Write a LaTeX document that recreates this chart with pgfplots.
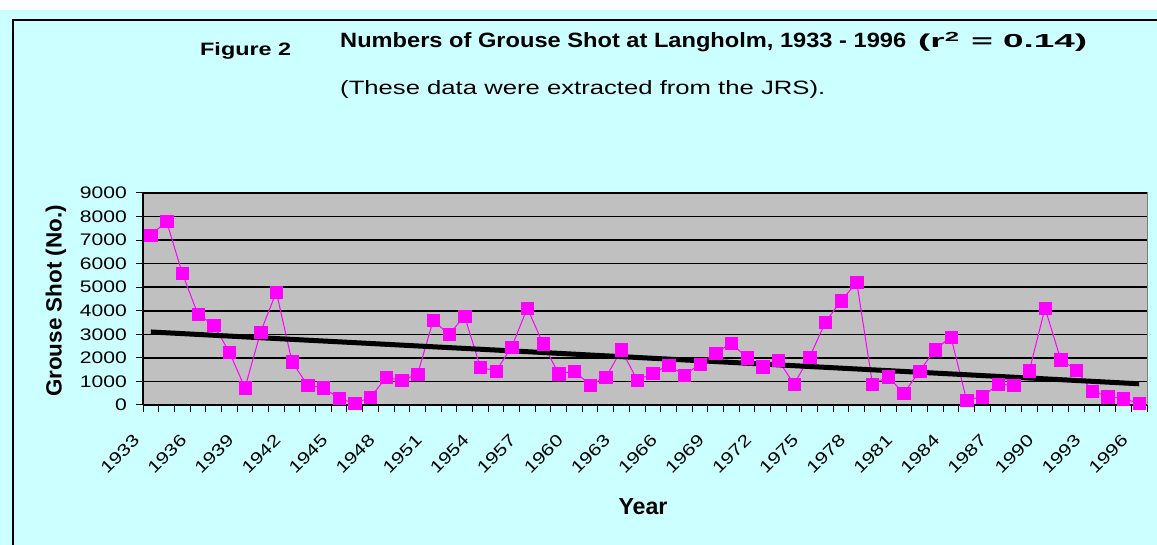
\documentclass[border=0pt]{standalone}
\usepackage{pgfplots}
\pgfplotsset{compat=1.18}
\usepackage{pgfplotstable}
\usepackage{fontspec}
\setmainfont{Liberation Sans}
\usepackage{graphicx}
\definecolor{bgcyan}{RGB}{204,255,255}
\definecolor{plotgray}{RGB}{192,192,192}
\definecolor{mag}{RGB}{255,0,255}
\newcommand\tl[1]{\scalebox{1.26}[1]{\fontsize{16.8}{18}\selectfont #1}}

\pgfplotstableread{
year val
1933 7200
1934 7800
1935 5600
1936 3850
1937 3400
1938 2250
1939 730
1940 3100
1941 4800
1942 1830
1943 830
1944 730
1945 280
1946 70
1947 320
1948 1170
1949 1050
1950 1300
1951 3590
1952 3000
1953 3770
1954 1610
1955 1440
1956 2460
1957 4110
1958 2600
1959 1320
1960 1440
1961 850
1962 1170
1963 2340
1964 1060
1965 1340
1966 1690
1967 1270
1968 1730
1969 2210
1970 2620
1971 2010
1972 1620
1973 1900
1974 890
1975 2040
1976 3520
1977 4420
1978 5210
1979 890
1980 1200
1981 490
1982 1440
1983 2350
1984 2890
1985 210
1986 350
1987 870
1988 850
1989 1460
1990 4110
1991 1930
1992 1480
1993 590
1994 350
1995 270
1996 70
}\grouse

\pgfplotstableread{
year val
1933 3100
1996 900
}\trend

\begin{document}
\begin{tikzpicture}[x=1bp,y=1bp]
\useasboundingbox (0,0) rectangle (1157,545);
\fill[white] (0,0) rectangle (1157,545);
\fill[bgcyan] (0,0) rectangle (1157,535);
\draw[black, line width=1.5bp] (13,0) -- (13,525) -- (1157,525);

\node[anchor=base west, inner sep=0pt] at (200,489) {\resizebox{91bp}{13bp}{\bfseries Figure 2}};
\node[anchor=base west, inner sep=0pt] at (340,497) {\resizebox{566bp}{15bp}{\bfseries Numbers of Grouse Shot at Langholm, 1933 - 1996}};
\node[anchor=base west, inner sep=0pt] at (918,497) {\resizebox{169bp}{16bp}{\bfseries (r\textsuperscript{2} = 0.14)}};
\node[anchor=base west, inner sep=0pt] at (340,450) {\resizebox{485bp}{14bp}{(These data were extracted from the JRS).}};
\node[rotate=90, anchor=center, inner sep=0pt] at (56,244) {\resizebox{192bp}{16bp}{\bfseries Grouse Shot (No.)}};
\node[anchor=base, inner sep=0pt] at (643,30) {\resizebox{49bp}{16bp}{\bfseries Year}};

\begin{axis}[
  at={(143bp,140bp)}, anchor=south west,
  scale only axis, width=1004bp, height=212bp,
  xmin=1932.5, xmax=1996.5, ymin=0, ymax=9000,
  axis x line=bottom, axis y line=left,
  axis line style={-, black, line width=1.5bp},
  axis background/.style={fill=plotgray, draw=gray, line width=1bp},
  xtick={1932.5,1933.5,...,1996.5}, xticklabels={},
  extra x ticks={1933,1936,...,1996},
  extra x tick labels={\tl{1933},\tl{1936},\tl{1939},\tl{1942},\tl{1945},\tl{1948},\tl{1951},\tl{1954},\tl{1957},\tl{1960},\tl{1963},\tl{1966},\tl{1969},\tl{1972},\tl{1975},\tl{1978},\tl{1981},\tl{1984},\tl{1987},\tl{1990},\tl{1993},\tl{1996}},
  extra x tick style={major tick length=0pt, xticklabel style={anchor=center, xshift=-31bp, yshift=-49bp, rotate=45, inner sep=0pt}},
  ytick={0,1000,...,9000},
  yticklabels={\tl{0},\tl{1000},\tl{2000},\tl{3000},\tl{4000},\tl{5000},\tl{6000},\tl{7000},\tl{8000},\tl{9000}},
  yticklabel style={anchor=east, inner sep=0pt},
  yticklabel shift=9bp,
  ymajorgrids, grid style={black, line width=1.5bp},
  tick align=outside, major tick length=7bp,
  tick style={black, line width=1bp},
  clip=false,
]
\addplot[mag, line width=1bp, mark=square*, mark size=6.2bp, mark options={fill=mag, draw=mag, line width=0.4bp}] table[x=year, y=val] {\grouse};
\addplot[black, line width=5bp] table[x=year, y=val] {\trend};
\end{axis}
\end{tikzpicture}
\end{document}
